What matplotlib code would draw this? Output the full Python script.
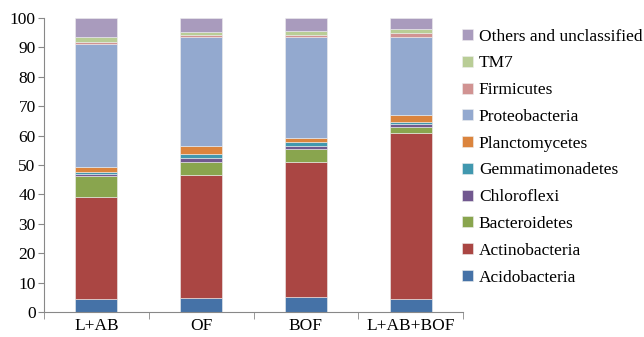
"""Stacked relative abundance of bacterial phyla per treatment."""
import matplotlib
matplotlib.use("Agg")
import matplotlib.pyplot as plt
import numpy as np

samples = ["L+AB", "OF", "BOF", "L+AB+BOF"]
phyla = ["Acidobacteria", "Actinobacteria", "Bacteroidetes", "Chloroflexi",
         "Gemmatimonadetes", "Planctomycetes", "Proteobacteria", "Firmicutes",
         "TM7", "Others and unclassified"]

# relative abundance (%) per phylum, one value per sample
acidobacteria = [4.3, 4.6, 5.0, 4.3]
actinobacteria = [34.7, 42.1, 45.9, 56.6]
bacteroidetes = [7.3, 4.4, 4.5, 2.0]
chloroflexi = [0.8, 1.4, 1.2, 1.0]
gemmatimonadetes = [0.5, 1.4, 1.1, 0.7]
planctomycetes = [1.8, 2.4, 1.4, 2.5]
proteobacteria = [41.6, 37.1, 34.3, 26.6]
firmicutes = [1.0, 0.9, 0.9, 1.3]
tm7 = [1.7, 0.9, 1.4, 1.4]
others = [6.3, 4.8, 4.3, 3.6]

colors = ["#4572A7", "#AA4643", "#89A54E", "#71588F", "#4198AF",
          "#DB843D", "#93A9CF", "#D19392", "#B9CD96", "#A99BBD"]

plt.rcParams["font.family"] = ["Liberation Serif", "DejaVu Serif"]

series = [acidobacteria, actinobacteria, bacteroidetes, chloroflexi,
          gemmatimonadetes, planctomycetes, proteobacteria, firmicutes,
          tm7, others]

fig = plt.figure(figsize=(6.44, 3.37), dpi=100)
ax = fig.add_axes([0.0683, 0.0742, 0.6507, 0.8724])

x = np.arange(len(samples))
bottom = np.zeros(len(samples))
handles = []
for name, vals, c in zip(phyla, series, colors):
    vals = np.array(vals)
    b = ax.bar(x, vals, 0.4, bottom=bottom, color=c, label=name,
               edgecolor="#eeeeee", linewidth=0.4)
    handles.append(b)
    bottom += vals

ax.set_xlim(-0.5, len(samples) - 0.5)
ax.set_ylim(0, 100)
ax.set_yticks(np.arange(0, 101, 10))
ax.set_xticks(x)
ax.set_xticklabels(samples)
ax.set_xticks(np.arange(-0.5, len(samples)), minor=True)
ax.tick_params(axis="x", which="major", length=0, pad=4, labelsize=12.5)
ax.tick_params(axis="x", which="minor", length=5, color="#888888")
ax.tick_params(axis="y", length=4, color="#888888", labelsize=12.5, pad=2)

for side in ["top", "right"]:
    ax.spines[side].set_visible(False)
for side in ["left", "bottom"]:
    ax.spines[side].set_color("#888888")

leg = fig.legend(handles[::-1], phyla[::-1], loc="upper left",
                 bbox_to_anchor=(0.718, 0.915), frameon=False,
                 fontsize=12.5, handlelength=0.6, handleheight=0.6,
                 handletextpad=0.35, labelspacing=0.62, borderaxespad=0,
                 borderpad=0)

fig.savefig("out.png", dpi=100)
